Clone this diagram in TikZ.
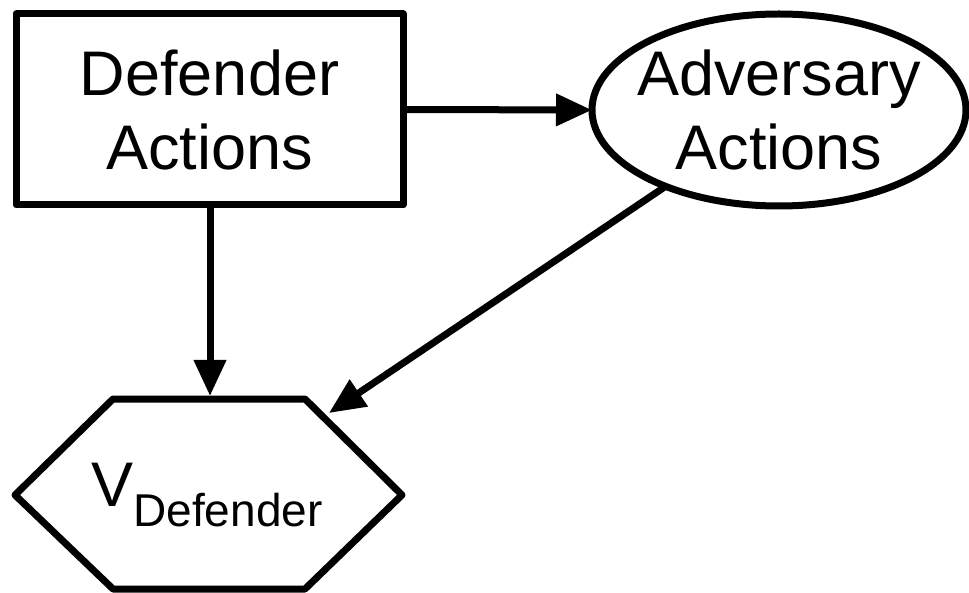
\documentclass[tikz,border=0pt]{standalone}
\usepackage{fontspec}
\setmainfont{Liberation Sans}
\usetikzlibrary{shapes.geometric,arrows.meta}
\begin{document}
\begin{tikzpicture}[x=1pt,y=-1pt,
  every node/.style={inner sep=0pt,outer sep=0pt},
  shapeline/.style={draw=black,line width=7pt,line join=round},
  bigtext/.style={font=\fontsize{63}{74}\selectfont,align=center},
  arr/.style={draw=black,line width=7pt,-{Triangle[length=36pt,width=31pt]}}]
\useasboundingbox (0,0) rectangle (969,593);
% Defender Actions box
\node[shapeline,rectangle,minimum width=387pt,minimum height=191pt,bigtext] (def) at (209.5,109.5) {Defender\\Actions};
% Adversary Actions ellipse
\node[shapeline,ellipse,minimum width=374pt,minimum height=192pt] (adv) at (779,110) {};
\node[bigtext] (advtext) at (adv.center) {Adversary\\Actions};
% Hexagon value node
\coordinate (h1) at (113,399);
\coordinate (h2) at (305,399);
\coordinate (h3) at (402,495);
\coordinate (h4) at (305,589);
\coordinate (h5) at (113,589);
\coordinate (h6) at (15,495);
\draw[shapeline] (h1) -- (h2) -- (h3) -- (h4) -- (h5) -- (h6) -- cycle;
\node[font=\fontsize{63}{74}\selectfont] (val) at (207,495) {V\raisebox{-20pt}{\fontsize{46}{46}\selectfont Defender}};
\coordinate (hextop) at (210,396);
\coordinate (hexne) at (329,413);
% connectors
\draw[arr] (def.east) -- (adv.west);
\draw[arr] (def.south -| hextop) -- (hextop);
\draw[arr] (adv) -- (hexne);
\end{tikzpicture}
\end{document}
